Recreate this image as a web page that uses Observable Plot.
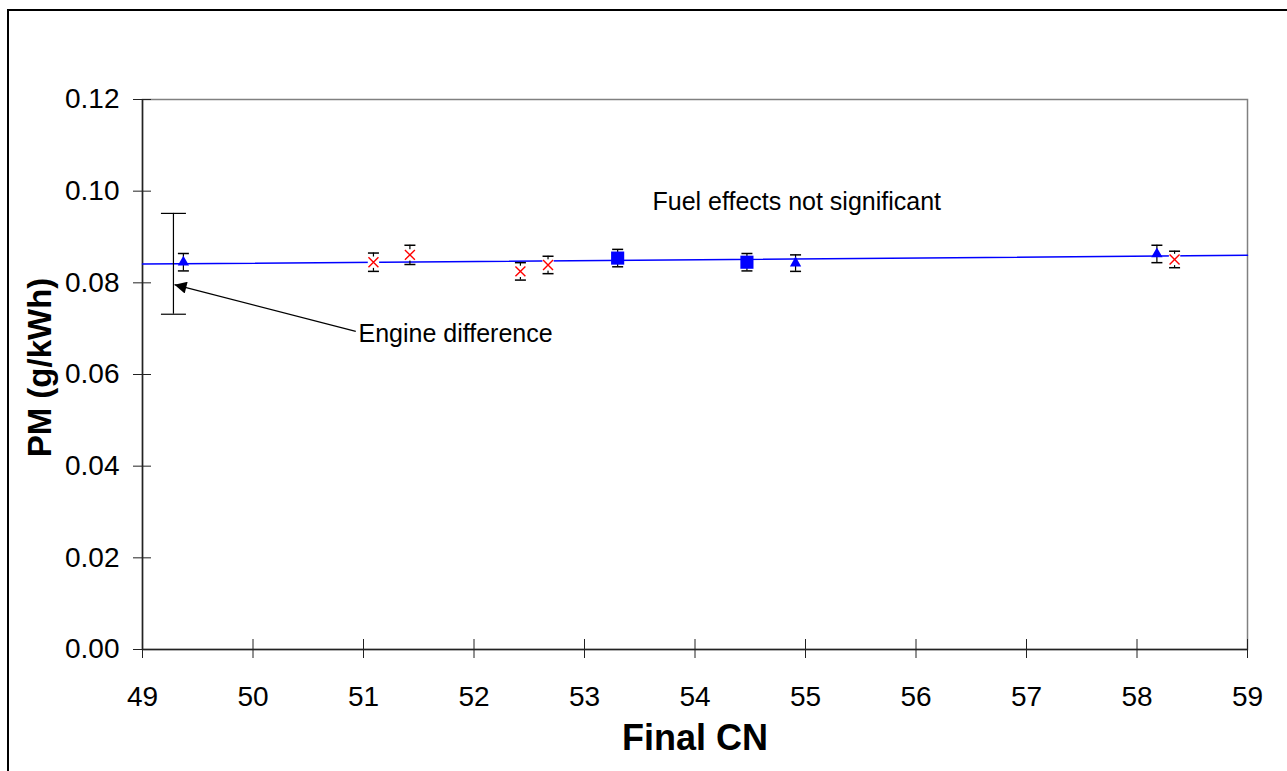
<!DOCTYPE html>
<html><head><meta charset="utf-8">
<script src="https://cdn.jsdelivr.net/npm/d3@7"></script>
<script src="https://cdn.jsdelivr.net/npm/@observablehq/plot@0.6"></script>
<style>
html,body{margin:0;padding:0;background:#fff;overflow:hidden;}
#wrap{position:relative;width:1287px;height:771px;overflow:hidden;}
#chart{position:absolute;left:0;top:0;}
#border{position:absolute;left:7px;top:9px;width:1400px;height:900px;border-left:2px solid #000;border-top:2px solid #000;pointer-events:none;}
</style></head><body>
<div id="wrap"><div id="chart"></div><div id="border"></div></div>
<script>
// ---- data ----
const xTicks = [49, 50, 51, 52, 53, 54, 55, 56, 57, 58, 59];
const yTicks = [0, 0.02, 0.04, 0.06, 0.08, 0.10, 0.12];

const triCN  = [49.37, 54.91, 58.18];
const triPM  = [0.0845, 0.0843, 0.0863];
const triErr = [0.0019, 0.0018, 0.0019];

const sqCN   = [53.30, 54.47];
const sqPM   = [0.0854, 0.0845];
const sqErr  = [0.0019, 0.0019];

const crossCN  = [51.09, 51.42, 52.42, 52.67, 58.34];
const crossPM  = [0.0845, 0.0861, 0.0825, 0.0839, 0.0851];
const crossErr = [0.0020, 0.0021, 0.0019, 0.0019, 0.0018];

const trendCN = [49, 59];
const trendPM = [0.0841, 0.0860];

const engineCN = [49.28];
const enginePM = [0.08415];
const engineErr = [0.0110];

const arrowFromCN = [50.93], arrowFromPM = [0.0694];
const arrowToCN = [49.29],   arrowToPM = [0.0796];

const notes = ["Fuel effects not significant", "Engine difference"];
const noteCN = [53.615, 50.955];
const notePM = [0.0977, 0.0689];

const xTitle = "Final CN";
const yTitle = "PM (g/kWh)";

// ---- tables ----
const rows = (cn, pm, err) => cn.map((c, i) => ({cn: c, pm: pm[i], err: err[i]}));
const tri = rows(triCN, triPM, triErr);
const sq = rows(sqCN, sqPM, sqErr);
const cross = rows(crossCN, crossPM, crossErr);
const small = [...tri, ...sq, ...cross];
const engine = rows(engineCN, enginePM, engineErr);
const trend = trendCN.map((c, i) => ({cn: c, pm: trendPM[i]}));
const arrow = arrowFromCN.map((c, i) => ({x1: c, y1: arrowFromPM[i], x2: arrowToCN[i], y2: arrowToPM[i]}));
const noteRows = notes.map((t, i) => ({t, cn: noteCN[i], pm: notePM[i]}));

const capSymbol = {draw(ctx, size) { const w = Math.sqrt(size / Math.PI); ctx.moveTo(-w, 0); ctx.lineTo(w, 0); }};
const FONT = "'Liberation Sans', Arial, Helvetica, sans-serif";
const AX = "#222";

const chart = Plot.plot({
  width: 1287, height: 771,
  marginLeft: 142, marginRight: 40, marginTop: 99, marginBottom: 122,
  style: {fontFamily: FONT, background: "transparent", color: "#000"},
  x: {domain: [xTicks[0], xTicks[xTicks.length - 1]]},
  y: {domain: [yTicks[0], yTicks[yTicks.length - 1]]},
  marks: [
    Plot.frame({stroke: "#808080", strokeWidth: 1.5}),
    Plot.ruleX([xTicks[0]], {stroke: AX, strokeWidth: 1.5}),
    Plot.ruleY([yTicks[0]], {stroke: AX, strokeWidth: 1.5}),
    Plot.axisY(yTicks, {tickSize: 18, dx: 9, tickFormat: () => "", stroke: AX, label: null}),
    Plot.axisY(yTicks, {tickSize: 0, tickPadding: 23, tickFormat: d3.format(".2f"), fontSize: 28, label: null}),
    Plot.axisX(xTicks, {tickSize: 19, dy: -10, tickFormat: () => "", stroke: AX, label: null}),
    Plot.axisX(xTicks, {tickSize: 0, tickPadding: 37, tickFormat: d => String(d), fontSize: 28, label: null}),
    // trend line
    Plot.line(trend, {x: "cn", y: "pm", stroke: "#0000FF", strokeWidth: 1.5}),
    // error bars
    Plot.ruleX(small, {x: "cn", y1: d => d.pm - d.err, y2: d => d.pm + d.err, stroke: "#000", strokeWidth: 1.2}),
    Plot.dot(small, {x: "cn", y: d => d.pm - d.err, symbol: capSymbol, r: 5.5, stroke: "#000", strokeWidth: 1.5, fill: "none"}),
    Plot.dot(small, {x: "cn", y: d => d.pm + d.err, symbol: capSymbol, r: 5.5, stroke: "#000", strokeWidth: 1.5, fill: "none"}),
    Plot.ruleX(engine, {x: "cn", y1: d => d.pm - d.err, y2: d => d.pm + d.err, stroke: "#000", strokeWidth: 1.2}),
    Plot.dot(engine, {x: "cn", y: d => d.pm - d.err, symbol: capSymbol, r: 12.5, stroke: "#000", strokeWidth: 1.2, fill: "none"}),
    Plot.dot(engine, {x: "cn", y: d => d.pm + d.err, symbol: capSymbol, r: 12.5, stroke: "#000", strokeWidth: 1.2, fill: "none"}),
    // markers
    Plot.dot(tri, {x: "cn", y: "pm", symbol: "triangle", r: 4.2, fill: "#0000FF", stroke: "none"}),
    Plot.dot(sq, {x: "cn", y: "pm", symbol: "square", r: 7.4, fill: "#0000FF", stroke: "none"}),
    Plot.dot(cross, {x: "cn", y: "pm", symbol: "square", r: 6.4, fill: "#fff", stroke: "none"}),
    Plot.dot(cross, {x: "cn", y: "pm", symbol: "times", r: 4.6, stroke: "#FF0000", strokeWidth: 1.4, fill: "none"}),
    // annotations
    Plot.link(arrow, {x1: "x1", y1: "y1", x2: "x2", y2: "y2", stroke: "#000", strokeWidth: 1.2}),
    Plot.text(noteRows, {x: "cn", y: "pm", text: "t", textAnchor: "start", lineAnchor: "middle", fontSize: 25, fill: "#000"}),
    // axis titles
    Plot.text([xTitle], {frameAnchor: "bottom", textAnchor: "middle", lineAnchor: "middle", dy: 88.5, fontSize: 36, fontWeight: "bold", fill: "#000"}),
    Plot.text([yTitle], {frameAnchor: "left", textAnchor: "middle", lineAnchor: "middle", dx: -102, dy: -7, rotate: -90, fontSize: 33, fontWeight: "bold", fill: "#000"})
  ]
});
document.getElementById("chart").append(chart);

// filled arrowhead for the annotation link
const svg = d3.select(chart.tagName.toLowerCase() === "svg" ? chart : chart.querySelector("svg"));
const defs = svg.append("defs");
defs.append("marker").attr("id", "ahead").attr("viewBox", "0 0 10 10").attr("refX", 10).attr("refY", 5)
  .attr("markerWidth", 13).attr("markerHeight", 12).attr("markerUnits", "userSpaceOnUse").attr("orient", "auto")
  .append("path").attr("d", "M0,0L10,5L0,10Z").attr("fill", "#000");
svg.selectAll("g[aria-label='link'] path").attr("marker-end", "url(#ahead)");
</script>
</body></html>
